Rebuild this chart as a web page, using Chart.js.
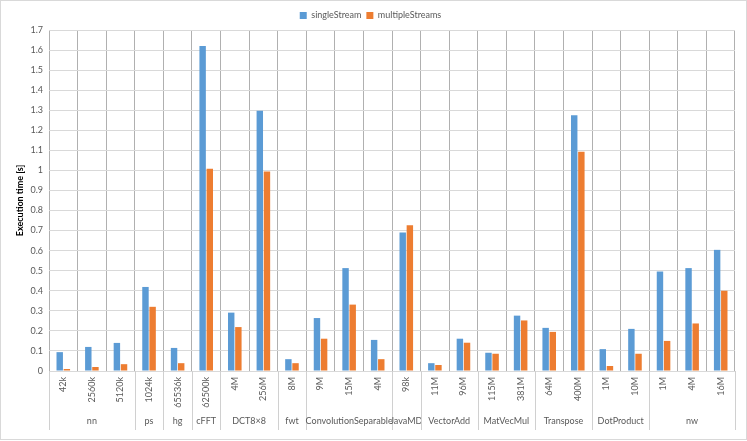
<!DOCTYPE html>
<html>
<head>
<meta charset="utf-8">
<script src="https://cdn.jsdelivr.net/npm/chart.js@4"></script>
<style>
  html, body { margin: 0; padding: 0; background: #fff; }
  #wrap { width: 747px; height: 441px; }
</style>
</head>
<body>
<div id="wrap"><canvas id="chart" width="747" height="441"></canvas></div>
<script>
const categories = ['42k', '2560k', '5120k', '1024k', '65536k', '62500k', '4M', '256M', '8M', '9M', '15M', '4M',
  '98k', '11M', '96M', '115M', '381M', '64M', '400M', '1M', '10M', '1M', '4M', '16M'];
const groupNames = ['nn', 'ps', 'hg', 'cFFT', 'DCT8×8', 'fwt', 'ConvolutionSeparable', 'JavaMD',
  'VectorAdd', 'MatVecMul', 'Transpose', 'DotProduct', 'nw'];
const groupSizes = [3, 1, 1, 1, 2, 1, 3, 1, 2, 2, 2, 2, 3];
const singleStream = [0.094, 0.12, 0.14, 0.419, 0.115, 1.62, 0.291, 1.297, 0.059, 0.264, 0.513, 0.155,
  0.691, 0.039, 0.161, 0.091, 0.276, 0.215, 1.275, 0.109, 0.21, 0.496, 0.513, 0.604];
const multipleStreams = [0.01, 0.02, 0.034, 0.32, 0.039, 1.008, 0.219, 0.995, 0.039, 0.161, 0.331, 0.059,
  0.727, 0.03, 0.141, 0.086, 0.252, 0.195, 1.093, 0.025, 0.086, 0.15, 0.237, 0.40];

const FONT = 'Lato, "Liberation Sans", sans-serif';
const TEXT = '#595959';

// group labels and separators under the category ticks
const groupAxis = {
  id: 'groupAxis',
  afterDraw(chart) {
    const ctx = chart.ctx;
    const x = chart.scales.x;
    const half = (x.getPixelForValue(1) - x.getPixelForValue(0)) / 2;
    const top = x.top;
    ctx.save();
    ctx.strokeStyle = '#d0d0d0';
    ctx.lineWidth = 1;
    ctx.fillStyle = TEXT;
    ctx.font = '9px ' + FONT;
    ctx.textAlign = 'center';
    ctx.textBaseline = 'middle';
    let i = 0;
    const line = (px) => {
      const p = Math.round(px) + 0.5;
      ctx.beginPath();
      ctx.moveTo(p, top);
      ctx.lineTo(p, top + 59);
      ctx.stroke();
    };
    line(x.getPixelForValue(0) - half);
    groupNames.forEach((name, g) => {
      const n = groupSizes[g];
      const left = x.getPixelForValue(i) - half;
      const right = x.getPixelForValue(i + n - 1) + half;
      ctx.fillText(name, (left + right) / 2, top + 50);
      line(right);
      i += n;
    });
    // outer frame
    ctx.strokeStyle = '#d9d9d9';
    ctx.strokeRect(0.5, 0.5, 746, 439);
    ctx.restore();
  }
};

new Chart(document.getElementById('chart').getContext('2d'), {
  type: 'bar',
  data: {
    labels: categories,
    datasets: [
      { label: 'singleStream', data: singleStream, backgroundColor: '#5b9bd5' },
      { label: 'multipleStreams', data: multipleStreams, backgroundColor: '#ed7d31' }
    ]
  },
  options: {
    responsive: false,
    animation: false,
    categoryPercentage: 0.5,
    barPercentage: 0.9,
    layout: { padding: { top: 6, left: 6, right: 12, bottom: 0 } },
    plugins: {
      legend: {
        position: 'top',
        labels: { boxWidth: 7, boxHeight: 7, padding: 5, color: TEXT, font: { size: 9, family: FONT } }
      },
      tooltip: { enabled: false }
    },
    scales: {
      x: {
        grid: { offset: true, color: '#b0b0b0', drawTicks: false },
        border: { color: '#d9d9d9' },
        ticks: {
          autoSkip: false, maxRotation: 90, minRotation: 90, padding: 6,
          color: TEXT, font: { size: 9, family: FONT }
        },
        afterFit: (s) => { s.height = 70; }
      },
      y: {
        min: 0, max: 1.7,
        grid: { color: '#d9d9d9', drawTicks: false },
        border: { display: false },
        ticks: {
          stepSize: 0.1, padding: 6, color: TEXT, font: { size: 9, family: FONT },
          callback: (v) => String(Number(v.toFixed(1)))
        },
        title: {
          display: true, text: 'Execution time [s]', color: '#000',
          font: { size: 9, weight: 'bold', family: FONT }, padding: { top: 9, bottom: 0 }
        },
        afterFit: (s) => { s.width = 43; }
      }
    }
  },
  plugins: [groupAxis]
});
</script>
</body>
</html>
